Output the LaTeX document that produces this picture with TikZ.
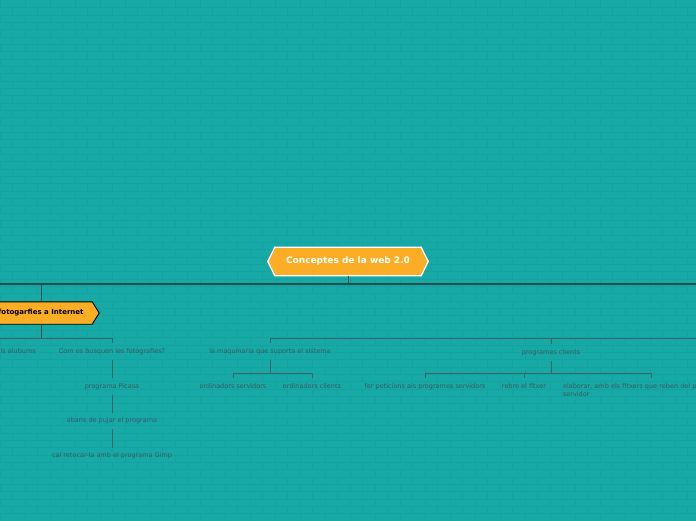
\documentclass[tikz,border=0pt]{standalone}
\usepackage{fontspec}
\setmainfont{DejaVu Sans}
\definecolor{bgc}{HTML}{16A9A6}
\definecolor{brickc}{HTML}{13A29F}
\definecolor{orangec}{HTML}{FBAD25}
\definecolor{txtc}{HTML}{3B5B5B}
\definecolor{darkline}{HTML}{2F4A4A}
\definecolor{softline}{HTML}{3F6464}
\pgfdeclarelayer{bricks}
\pgfdeclarelayer{shapes}
\pgfsetlayers{bricks,shapes,main}
\begin{document}
\begin{tikzpicture}[x=1pt,y=-1pt,
  brickline/.style={draw=brickc,line width=0.8pt},
  mainbox/.style={minimum width=146pt,minimum height=28pt,inner sep=0pt,
    font=\bfseries\fontsize{9}{10}\selectfont,text=white},
  subbox/.style={minimum width=102pt,minimum height=22pt,inner sep=0pt,
    font=\bfseries\fontsize{7}{8}\selectfont,text=black},
  leaf/.style={font=\fontsize{6.5}{8.5}\selectfont,text=txtc,inner sep=0pt,
    minimum height=16pt},
  darkconn/.style={draw=darkline,line width=1.3pt},
  midconn/.style={draw=darkline,line width=1pt},
  softconn/.style={draw=softline,line width=1pt}]
\useasboundingbox (0,0) rectangle (696,520);
\begin{pgfonlayer}{bricks}
\begin{scope}
\clip (0,0) rectangle (696,520);
\fill[bgc] (-2,-2) rectangle (698,522);
\foreach \k in {0,...,70}{
  \pgfmathsetmacro\yy{7.667+\k*7.333}
  \pgfmathsetmacro\off{mod(\k,2)*12.5}
  \draw[brickline] (0,\yy) -- (696,\yy)
    \foreach \j in {0,...,28}{ (\off+\j*25,\yy) -- ++(0,-7.333) };
}
\end{scope}
\end{pgfonlayer}

% main topic
\node[mainbox] (main) at (348,261.5) {\raisebox{-1pt}{Conceptes de la web 2.0}};
\node[subbox] (sub) at (41,313) {\raisebox{-0.5pt}{fotogarfies a Internet}};
\begin{pgfonlayer}{shapes}
\draw[fill=orangec,draw=white,line width=1.3pt]
  (main.north west) -- (main.north east) -- ([xshift=7pt]main.east)
  -- (main.south east) -- (main.south west) -- ([xshift=-7pt]main.west) -- cycle;
\draw[fill=orangec,draw=black,line width=0.9pt]
  (sub.north west) -- (sub.north east) -- ([xshift=7pt]sub.east)
  -- (sub.south east) -- (sub.south west) -- ([xshift=-7pt]sub.west) -- cycle;
\end{pgfonlayer}

% leaves
\node[leaf,anchor=east] (alb) at (36,351.5) {ls alubums};
\node[leaf] (busq) at (112,351.5) {Com es busquen les fotografies?};
\node[leaf] (pic) at (112,386.5) {programa Picasa};
\node[leaf] (aban) at (112,421) {abans de pujar el programa};
\node[leaf] (gimp) at (112,456) {cal retocar-la amb el programa Gimp};
\node[leaf] (maq) at (270,351.5) {la maquinaria que suporta el sistema};
\node[leaf] (serv) at (233,386.5) {ordinadors servidors};
\node[leaf] (ocl) at (312,386.5) {ordinadors clients};
\node[leaf] (pcl) at (551,352.5) {programes clients};
\node[leaf] (fer) at (425,386.5) {fer peticions als programes servidors};
\node[leaf] (rebre) at (524,386.5) {rebre el fitxer};
\node[leaf,anchor=north,minimum height=0pt,inner xsep=0pt,inner ysep=5.3pt,
  text width=176pt,align=left] (elab) at (651,378)
  {elaborar, amb els fitxers que reben del p\\servidor};

% connectors
\coordinate (L0) at (0,284);
\coordinate (R0) at (696,284);
\coordinate (L1) at (0,338);
\coordinate (R1) at (696,338);
\draw[darkconn] (L0) -- (R0);
\draw[midconn] (main.south) -- (main.south |- L0);
\draw[midconn] (sub.north) -- (sub.north |- L0);
\draw[midconn] (sub.south) -- ++(0,14) coordinate (j1);
\draw[softconn] (L1) -| (busq.north);
\draw[softconn] (busq.south) -- (pic.north);
\draw[softconn] (pic.south) -- (aban.north);
\draw[softconn] (aban.south) -- (gimp.north);
\draw[softconn] (R1) -| (maq.north);
\draw[softconn] (R1) -| (pcl.north);
\draw[softconn] (maq.south) -- ++(0,13.5) coordinate (j2);
\draw[softconn] (j2) -| (serv.north);
\draw[softconn] (j2) -| (ocl.north);
\draw[softconn] (pcl.south) -- ++(0,12.5) coordinate (j3);
\draw[softconn] (j3) -| (fer.north);
\draw[softconn] (j3) -| (rebre.north);
\draw[softconn] (j3) -| (elab.north);
\end{tikzpicture}
\end{document}
